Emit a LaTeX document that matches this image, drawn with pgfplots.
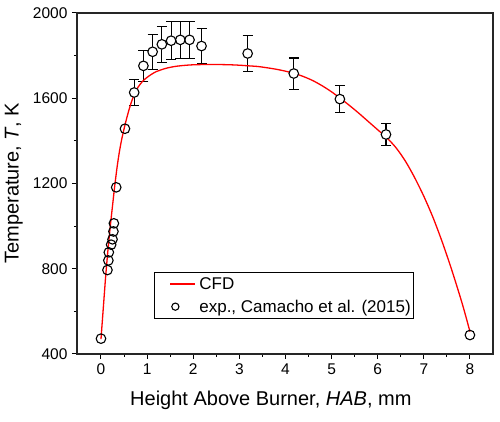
\documentclass[border=0pt]{standalone}
\usepackage{fontspec}
\setmainfont{Liberation Sans}
\usepackage{pgfplots}
\pgfplotsset{compat=1.18}
\usepackage{pgfplotstable}

% legend pictures: a short line for the model, a single circle for the data
\pgfplotsset{
  cfd legend/.style={legend image code/.code={%
    \path[draw=none, fill=none] (0pt,-1pt) rectangle (42pt,1pt);
    \draw[##1, line width=1.3pt] (16pt,0pt) -- (41pt,0pt);}},
  exp legend/.style={legend image code/.code={%
    \path[draw=none, fill=none] (0pt,-1pt) rectangle (42pt,1pt);
    \draw[##1, mark size=3.6pt] plot coordinates {(21pt,0pt)};}},
}

% CFD temperature profile along the burner axis
\pgfplotstableread{
x y
0 470
0.05 615
0.1 760
0.15 885
0.2 995
0.25 1095
0.3 1192
0.35 1278
0.4 1350
0.45 1408
0.5 1456
0.55 1500
0.6 1540
0.65 1576
0.7 1606
0.75 1631
0.8 1651
0.9 1679
1.0 1698
1.1 1713
1.2 1725
1.4 1740
1.6 1749
1.8 1754
2.0 1757
2.2 1758
2.4 1758
2.6 1758
2.8 1757
3.0 1755
3.2 1752
3.4 1749
3.6 1743
3.8 1736
4.0 1727
4.2 1716
4.4 1701
4.6 1682
4.8 1658
5.0 1630
5.2 1598
5.4 1564
5.6 1528
5.8 1490
6.0 1452
6.2 1414
6.4 1367
6.6 1305
6.8 1228
7.0 1140
7.2 1040
7.4 925
7.6 798
7.8 660
7.9 585
8.0 505
}\cfd

% Measurements (Camacho et al., 2015)
\pgfplotstableread{
x y
0 472
0.14 794
0.16 839
0.17 877
0.22 913
0.25 938
0.27 975
0.28 1013
0.33 1182
0.52 1457
0.72 1627
0.92 1752
1.12 1818
1.32 1853
1.52 1870
1.72 1874
1.92 1874
2.18 1845
3.18 1810
4.18 1716
5.18 1596
6.18 1430
8.0 489
}\expdata

% Points that carry an error bar
\pgfplotstableread{
x y e
0.72 1627 63
0.92 1752 74
1.12 1818 83
1.32 1853 84
1.52 1870 88
1.72 1874 88
1.92 1874 88
2.18 1845 84
3.18 1810 83
4.18 1716 73
5.18 1596 64
6.18 1430 50
}\experr

\begin{document}
\begin{tikzpicture}
\begin{axis}[
  name=ax,
  scale only axis,
  width=416pt, height=341pt,
  xmin=-0.52, xmax=8.5,
  ymin=400, ymax=2000,
  xtick={0,1,...,8},
  ytick={400,800,1200,1600,2000},
  minor x tick num=1,
  minor y tick num=1,
  tick align=outside,
  xtick pos=bottom, ytick pos=left,
  major tick length=5pt, minor tick length=3pt,
  every tick/.style={black, line width=1pt},
  axis line style={black!85, line width=1.1pt},
  /pgf/number format/assume math mode=true,
  /pgf/number format/1000 sep={},
  ticklabel style={font=\fontsize{15.5}{16}\selectfont},
  xticklabel style={yshift=-1pt},
  yticklabel style={xshift=-1pt},
  xlabel={Height Above Burner, \textit{HAB}, mm},
  ylabel={Temperature, \textit{T}, K},
  label style={font=\fontsize{20}{22}\selectfont},
  xlabel style={at={(axis description cs:0.466,-0.135)}, anchor=center},
  ylabel style={at={(axis description cs:-0.152,0.5)}, anchor=center},
  legend style={
    at={(axis description cs:0.185,0.2405)}, anchor=north west,
    draw=black, line width=0.8pt, fill=white,
    font=\fontsize{17}{19}\selectfont,
    inner xsep=0pt, inner ysep=3pt,
    row sep=5pt,
    nodes={inner xsep=3pt},
  },
  legend cell align=left,
]
% error bars, hidden inside the markers
\addplot[forget plot, only marks, mark=*, mark size=4.8pt,
  mark options={fill=white, draw=white},
  error bars/.cd, y dir=both, y explicit,
  error bar style={black, line width=1.1pt},
  error mark options={rotate=90, mark size=5pt, line width=1.1pt, black}]
  table[x=x, y=y, y error=e] {\experr};
\addplot[red, line width=1.3pt, smooth, cfd legend]
  table[x=x, y=y] {\cfd};
\addlegendentry{CFD}
\addplot[only marks, mark=o, mark size=4.8pt, black,
  mark options={line width=1.1pt}, exp legend]
  table[x=x, y=y] {\expdata};
\addlegendentry{exp., Camacho et al. (2015)}
\end{axis}
\pgfresetboundingbox
\path ([shift={(-77pt,-68pt)}]ax.south west) rectangle ([shift={(7pt,13pt)}]ax.north east);
\end{tikzpicture}
\end{document}
